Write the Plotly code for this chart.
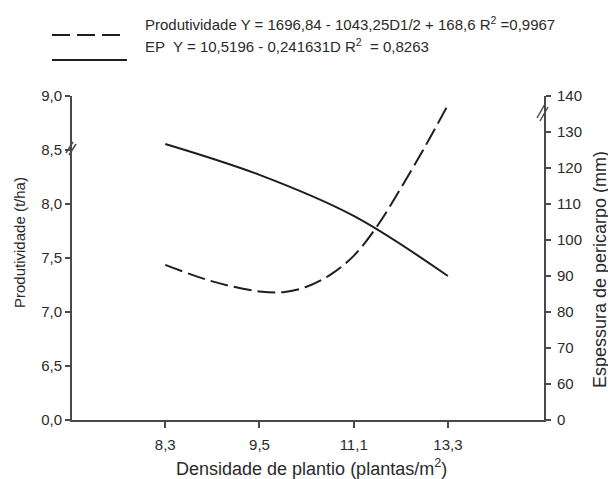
import plotly.graph_objects as go

# ---- data ----
categories = ['8,3', '9,5', '11,1', '13,3']
cat_pos = [0, 1, 2, 3]

# EP curve (solid, left axis), values at the four densities
ep_y = [8.556, 8.27, 7.89, 7.333]

# Produtividade curve (dashed, right axis)
prod_x = [0, 0.5, 1, 1.25, 1.5, 1.75, 2, 2.25, 2.5, 2.75, 3]
prod_y = [93.1, 88.5, 85.7, 85.5, 87.0, 90.3, 95.6, 103.9, 114.4, 125.6, 137.5]

left_vals = [6.0, 6.5, 7.0, 7.5, 8.0, 8.5, 9.0]
left_text = ['0,0', '6,5', '7,0', '7,5', '8,0', '8,5', '9,0']
right_vals = [50, 60, 70, 80, 90, 100, 110, 120, 130, 140]
right_text = ['0', '60', '70', '80', '90', '100', '110', '120', '130', '140']

W, H = 608, 471          # page has an 8px body margin
L, R, T, B = 64, 72, 88, 59
FONT = 'Liberation Sans, Arial, sans-serif'
TXT = '#2a2a2a'
AX = '#4a4a4a'
LINE = '#1e1e1e'


def px(x):  # page pixel -> paper
    return (x - 72) / 472


def py(y):
    return (420 - y) / 324


fig = go.Figure()
fig.add_trace(go.Scatter(x=cat_pos, y=ep_y, mode='lines',
                         line=dict(color=LINE, width=2, shape='spline', smoothing=1),
                         showlegend=False, yaxis='y'))
fig.add_trace(go.Scatter(x=prod_x, y=prod_y, mode='lines',
                         line=dict(color=LINE, width=2, shape='spline', smoothing=1, dash='18px,6px'),
                         showlegend=False, yaxis='y2'))

shapes = []
# legend samples
shapes.append(dict(type='line', xref='paper', yref='paper', x0=px(52), x1=px(120), y0=py(35), y1=py(35),
                   line=dict(color=LINE, width=2, dash='18px,7px')))
shapes.append(dict(type='line', xref='paper', yref='paper', x0=px(52), x1=px(127), y0=py(60), y1=py(60),
                   line=dict(color=LINE, width=2)))
# axis break marks
for (x0, y0, x1, y1) in [(66, 153, 73, 142), (69, 155, 76, 144),
                         (537, 118, 545, 104), (540, 121, 548, 107)]:
    shapes.append(dict(type='line', xref='paper', yref='paper', x0=px(x0), y0=py(y0), x1=px(x1), y1=py(y1),
                       line=dict(color=AX, width=1.5)))

annotations = [
    dict(text='Produtividade Y = 1696,84 - 1043,25D1/2 + 168,6 R<sup>2</sup> =0,9967',
         xref='paper', yref='paper', x=px(143), y=py(23), xanchor='left', yanchor='middle',
         showarrow=False, font=dict(family=FONT, size=15, color=TXT)),
    dict(text='EP\u00a0 Y = 10,5196 - 0,241631D R<sup>2</sup>\u00a0 = 0,8263',
         xref='paper', yref='paper', x=px(143), y=py(46), xanchor='left', yanchor='middle',
         showarrow=False, font=dict(family=FONT, size=15, color=TXT)),
    # axis titles
    dict(text='Densidade de plantio (plantas/m<sup>2</sup>)', xref='paper', yref='paper',
         x=px(311), y=py(467), xanchor='center', yanchor='middle', showarrow=False,
         font=dict(family=FONT, size=18, color=TXT)),
    dict(text='Produtividade (t/ha)', xref='paper', yref='paper', textangle=-90,
         x=px(19), y=py(243), xanchor='center', yanchor='middle', showarrow=False,
         font=dict(family=FONT, size=15, color=TXT)),
    dict(text='Espessura de pericarpo (mm)', xref='paper', yref='paper', textangle=-90,
         x=px(600), y=py(270), xanchor='center', yanchor='middle', showarrow=False,
         font=dict(family=FONT, size=18, color=TXT)),
]

axis_common = dict(showline=True, linecolor=AX, linewidth=2, ticks='outside', tickwidth=1.5,
                   tickcolor=AX, showgrid=False, zeroline=False, automargin=False,
                   tickfont=dict(size=15, color=TXT))

fig.update_layout(
    width=W, height=H,
    margin=dict(l=L, r=R, t=T, b=B, pad=0, autoexpand=False),
    paper_bgcolor='white', plot_bgcolor='white',
    font=dict(family=FONT, color=TXT, size=15),
    showlegend=False,
    shapes=shapes,
    annotations=annotations,
    xaxis=dict(range=[-0.99, 4.02], tickvals=cat_pos, ticktext=categories, ticklen=6,
               ticklabelstandoff=4, **axis_common),
    yaxis=dict(range=[6.0, 9.0], tickvals=left_vals, ticktext=left_text, ticklen=5, **axis_common),
    yaxis2=dict(range=[50, 140], tickvals=right_vals, ticktext=right_text, overlaying='y', side='right',
                ticklen=5, ticklabelstandoff=3, **axis_common),
)

fig.write_html('out.html')
